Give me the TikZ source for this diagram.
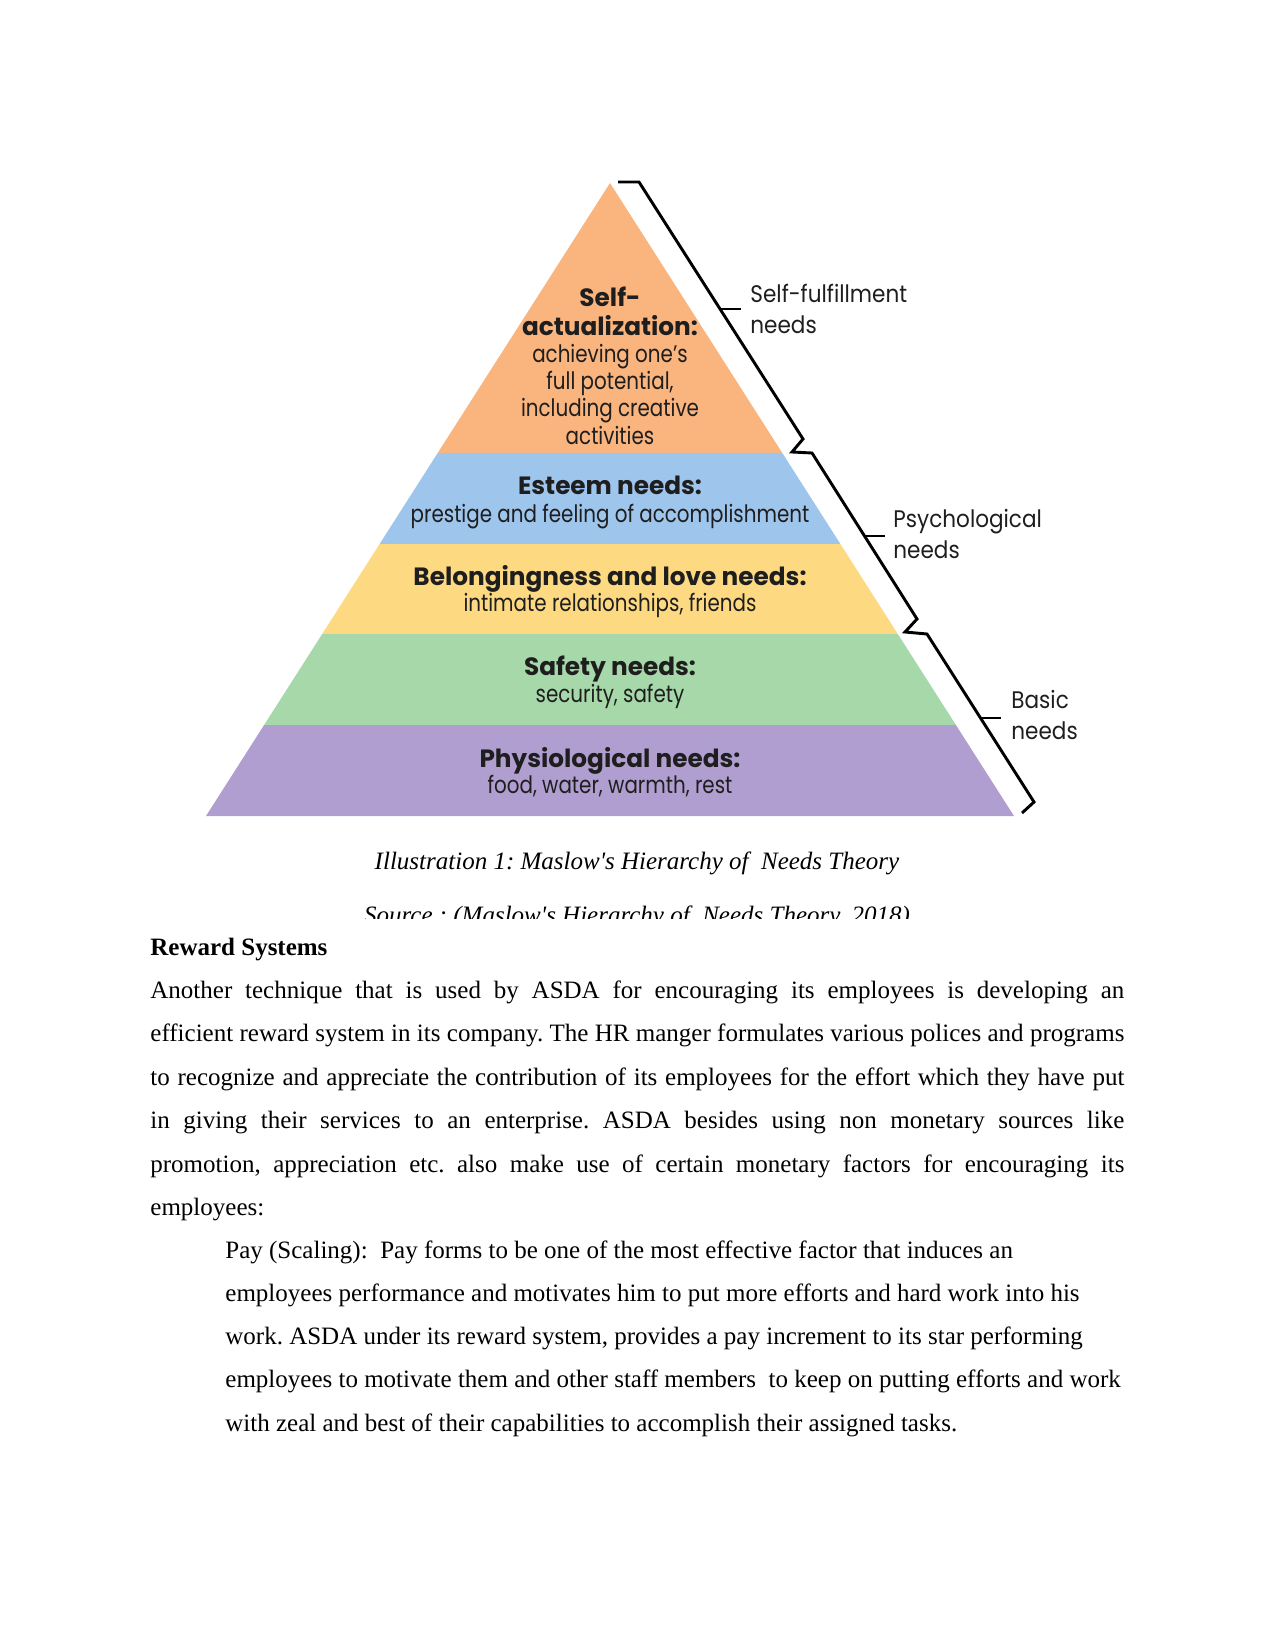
\documentclass[tikz,border=0pt]{standalone}
\usepackage{fontspec}
\setmainfont{Liberation Serif}
\newfontfamily\pyr[FakeStretch=0.9]{Poppins}
\newfontfamily\pyrs[FakeStretch=0.83]{Poppins}
\newfontfamily\pyrb[FakeStretch=0.99]{Poppins}
\definecolor{cOrange}{RGB}{250,180,126}
\definecolor{cBlue}{RGB}{158,197,236}
\definecolor{cYellow}{RGB}{253,217,130}
\definecolor{cGreen}{RGB}{166,216,170}
\definecolor{cPurple}{RGB}{177,158,208}
\definecolor{pyrtext}{RGB}{30,30,30}
\tikzset{
  ttl/.style={font=\pyrb\bfseries\fontsize{12pt}{13pt}\selectfont, anchor=base, inner sep=0pt, text=pyrtext},
  sub/.style={font=\pyrs\fontsize{11.5pt}{13pt}\selectfont, anchor=base, inner sep=0pt, text=pyrtext},
  lbl/.style={font=\pyr\fontsize{11.5pt}{13pt}\selectfont, anchor=base west, inner sep=0pt, text=pyrtext},
  bracestyle/.style={line width=1.4pt, line join=miter},
  body/.style={font=\fontsize{12pt}{14pt}\selectfont\frenchspacing, anchor=base west, inner sep=0pt},
  captext/.style={font=\itshape\fontsize{12pt}{14pt}\selectfont\frenchspacing, anchor=base, inner sep=0pt}
}
\newcommand{\jline}[1]{\makebox[467.5pt][s]{#1}}
\begin{document}
\frenchspacing
\begin{tikzpicture}[x=0.48pt,y=-0.48pt]
\useasboundingbox (0,0) rectangle (1275,1650);
% pyramid bands
\fill[cOrange] (610,183) -- (782.3,453) -- (437.7,453) -- cycle;
\fill[cBlue] (437.7,453) -- (782.3,453) -- (840.4,544) -- (379.6,544) -- cycle;
\fill[cYellow] (379.6,544) -- (840.4,544) -- (897.8,634) -- (322.2,634) -- cycle;
\fill[cGreen] (322.2,634) -- (897.8,634) -- (955.9,725) -- (264.1,725) -- cycle;
\fill[cPurple] (264.1,725) -- (955.9,725) -- (1014,816) -- (206,816) -- cycle;
% texts in pyramid
\node[ttl] (sa1) at (610,307) {Self-};
\node[ttl] (sa2) at (610,336) {actualization:};
\node[sub] (sa3) at (610,363) {achieving one’s};
\node[sub] (sa4) at (610,390) {full potential,};
\node[sub] (sa5) at (610,417) {including creative};
\node[sub] (sa6) at (610,444) {activities};
\node[ttl] (es1) at (610,495) {Esteem needs:};
\node[sub] (es2) at (610,522) {prestige and feeling of accomplishment};
\node[ttl] (be1) at (610,585) {Belongingness and love needs:};
\node[sub] (be2) at (610,611) {intimate relationships, friends};
\node[ttl] (sf1) at (610,675) {Safety needs:};
\node[sub] (sf2) at (610,702) {security, safety};
\node[ttl] (ph1) at (610,767) {Physiological needs:};
\node[sub] (ph2) at (610,793) {food, water, warmth, rest};
% braces
\coordinate (b0) at (618,182);
\coordinate (b1) at (639,182);
\coordinate (b2) at (803,439);
\coordinate (b3) at (792,452);
\coordinate (b4) at (812,453);
\coordinate (b5) at (917,619);
\coordinate (b6) at (905,632);
\coordinate (b7) at (927,634);
\coordinate (b8) at (1034,802);
\coordinate (b9) at (1022,813);
\draw[bracestyle] (b0) -- (b1) -- (b2) -- (b3) -- (b4) -- (b5) -- (b6) -- (b7) -- (b8) -- (b9);
\coordinate (t1a) at (721,309); \coordinate (t1b) at (741,309);
\coordinate (t2a) at (865,536); \coordinate (t2b) at (885,536);
\coordinate (t3a) at (981,718); \coordinate (t3b) at (1001,718);
\draw[bracestyle] (t1a) -- (t1b);
\draw[bracestyle] (t2a) -- (t2b);
\draw[bracestyle] (t3a) -- (t3b);
\node[lbl] (l1a) at (750,303) {Self-fulfillment};
\node[lbl] (l1b) at (750,334) {needs};
\node[lbl] (l2a) at (893,527) {Psychological};
\node[lbl] (l2b) at (893,558) {needs};
\node[lbl] (l3a) at (1011,708) {Basic};
\node[lbl] (l3b) at (1011,739) {needs};
% caption
\node[captext] (capt) at (637,869) {Illustration 1: Maslow\textquotesingle s Hierarchy of\ \ Needs Theory};
\begin{scope}
\clip (300,890) rectangle (1000,918);
\node[captext] (src) at (637,923) {Source : (Maslow\textquotesingle s Hierarchy of\ \ Needs Theory, 2018)};
\end{scope}
% body
\node[body, font=\bfseries\fontsize{12pt}{14pt}\selectfont] (hd) at (150,955) {Reward Systems};
\node[body] (p1) at (150,998) {\jline{Another technique that is used by ASDA for encouraging its employees is developing an}};
\node[body] (p2) at (150,1041.5) {\jline{efficient reward system in its company. The HR manger formulates various polices and programs}};
\node[body] (p3) at (150,1085) {\jline{to recognize and appreciate the contribution of its employees for the effort which they have put}};
\node[body] (p4) at (150,1128.5) {\jline{in giving their services to an enterprise. ASDA besides using non monetary sources like}};
\node[body] (p5) at (150,1172) {\jline{promotion, appreciation etc. also make use of certain monetary factors for encouraging its}};
\node[body] (p6) at (150,1215) {employees:};
\node[body] (q1) at (225,1258) {Pay (Scaling):\ \ Pay forms to be one of the most effective factor that induces an};
\node[body] (q2) at (225,1301) {employees performance and motivates him to put more efforts and hard work into his};
\node[body] (q3) at (225,1344) {work. ASDA under its reward system, provides a pay increment to its star performing};
\node[body] (q4) at (225,1387.5) {employees to motivate them and other staff members\ \ to keep on putting efforts and work};
\node[body] (q5) at (225,1431) {with zeal and best of their capabilities to accomplish their assigned tasks.};
\end{tikzpicture}
\end{document}
